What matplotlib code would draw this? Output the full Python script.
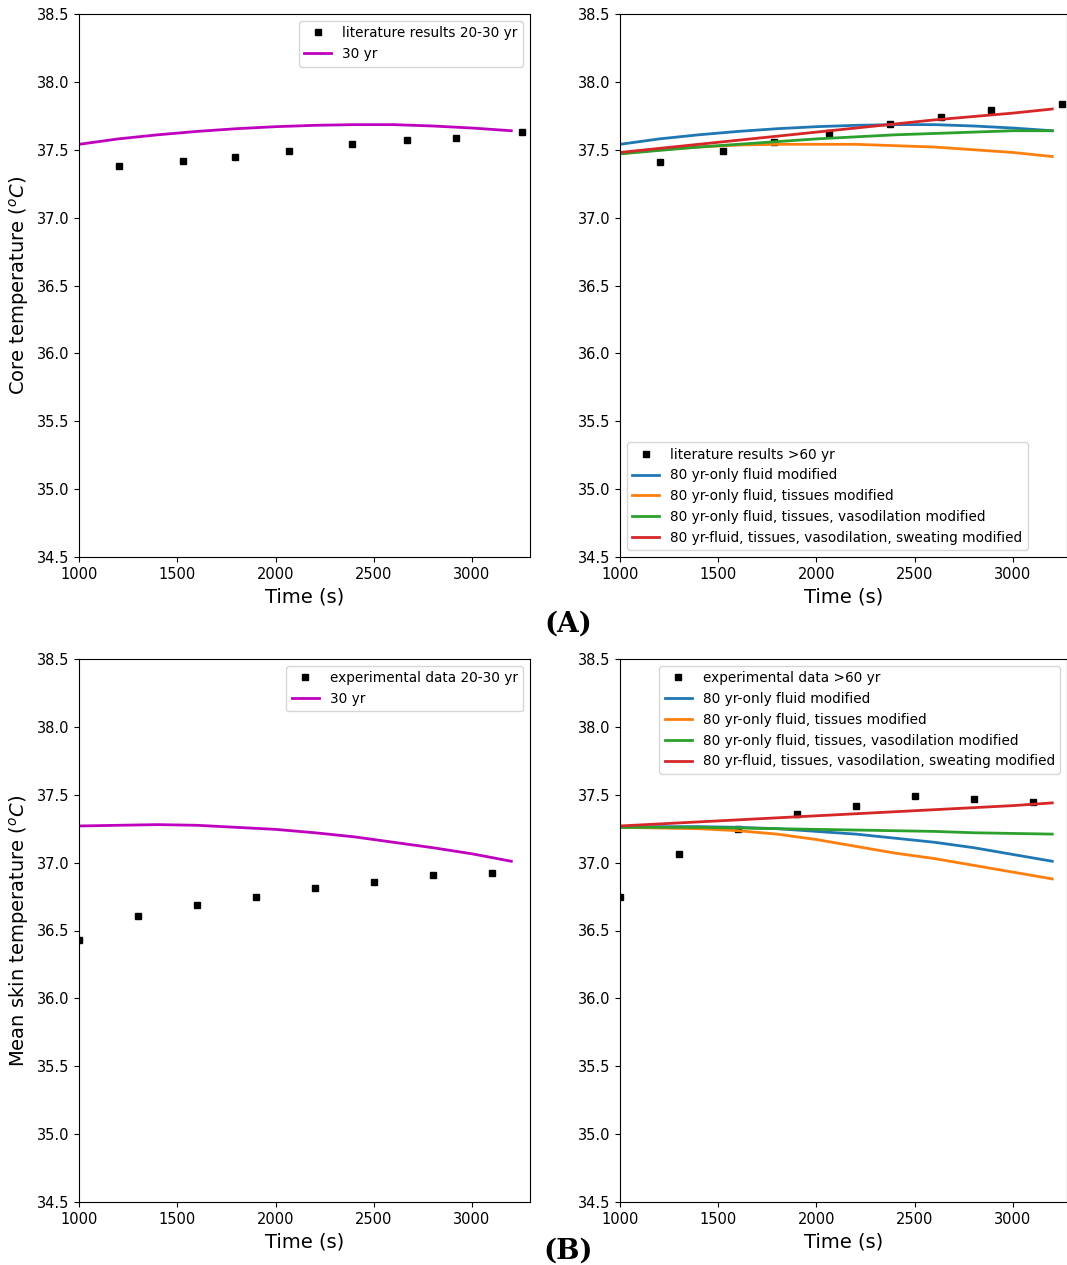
import matplotlib
matplotlib.use('Agg')
import matplotlib.pyplot as plt

# 数据
t_lit_young = [1204, 1529, 1794, 2069, 2389, 2669, 2919, 3254]
core_lit_young = [37.38, 37.42, 37.45, 37.49, 37.54, 37.57, 37.59, 37.63]
t_lit_old = [1204, 1524, 1784, 2064, 2374, 2634, 2888, 3249]
core_lit_old = [37.41, 37.49, 37.56, 37.62, 37.69, 37.74, 37.79, 37.84]

t_model = [1000, 1200, 1400, 1600, 1800, 2000, 2200, 2400, 2600, 2800, 3000, 3200]
core_30 = [37.54, 37.58, 37.61, 37.635, 37.655, 37.67, 37.68, 37.685, 37.685, 37.675, 37.66, 37.64]
core_fluid = [37.54, 37.58, 37.61, 37.635, 37.655, 37.67, 37.68, 37.685, 37.685, 37.675, 37.66, 37.64]
core_tissue = [37.47, 37.50, 37.52, 37.535, 37.54, 37.54, 37.54, 37.53, 37.52, 37.50, 37.48, 37.45]
core_vaso = [37.47, 37.495, 37.52, 37.54, 37.56, 37.58, 37.595, 37.61, 37.62, 37.63, 37.64, 37.64]
core_sweat = [37.48, 37.51, 37.54, 37.57, 37.60, 37.63, 37.66, 37.69, 37.72, 37.745, 37.77, 37.80]

t_exp = [1000, 1300, 1600, 1900, 2200, 2500, 2800, 3100]
skin_exp_young = [36.43, 36.61, 36.69, 36.75, 36.81, 36.86, 36.91, 36.92]
skin_exp_old = [36.75, 37.06, 37.25, 37.36, 37.42, 37.49, 37.47, 37.45]
skin_30 = [37.27, 37.275, 37.28, 37.275, 37.26, 37.245, 37.22, 37.19, 37.15, 37.11, 37.065, 37.01]
skin_fluid = [37.26, 37.265, 37.265, 37.26, 37.25, 37.23, 37.21, 37.18, 37.15, 37.11, 37.06, 37.01]
skin_tissue = [37.26, 37.255, 37.25, 37.235, 37.21, 37.17, 37.12, 37.07, 37.03, 36.98, 36.93, 36.88]
skin_vaso = [37.26, 37.26, 37.26, 37.255, 37.25, 37.245, 37.24, 37.235, 37.23, 37.22, 37.215, 37.21]
skin_sweat = [37.27, 37.285, 37.30, 37.315, 37.33, 37.345, 37.36, 37.375, 37.39, 37.405, 37.42, 37.44]

labels_80 = ['80 yr-only fluid modified', '80 yr-only fluid, tissues modified',
             '80 yr-only fluid, tissues, vasodilation modified',
             '80 yr-fluid, tissues, vasodilation, sweating modified']
colors = ['#1f77b4', '#ff7f0e', '#2ca02c', '#d62728']

fig = plt.figure(figsize=(10.67, 12.65), dpi=100)
W, H = 1067, 1265
def add_ax(x0, y0, x1, y1):
    return fig.add_axes([x0 / W, 1 - y1 / H, (x1 - x0) / W, (y1 - y0) / H])

ax1 = add_ax(79, 14, 530, 557)
ax2 = add_ax(620, 14, 1067, 557)
ax3 = add_ax(79, 659, 530, 1202)
ax4 = add_ax(620, 659, 1067, 1202)

ax1.plot(t_lit_young, core_lit_young, 's', color='k', ms=5, label='literature results 20-30 yr')
ax1.plot(t_model, core_30, color='m', lw=2, label='30 yr')
ax2.plot(t_lit_old, core_lit_old, 's', color='k', ms=5, label='literature results >60 yr')
for y, lab, c in zip([core_fluid, core_tissue, core_vaso, core_sweat], labels_80, colors):
    ax2.plot(t_model, y, color=c, lw=2, label=lab)

ax3.plot(t_exp, skin_exp_young, 's', color='k', ms=5, label='experimental data 20-30 yr')
ax3.plot(t_model, skin_30, color='m', lw=2, label='30 yr')
ax4.plot(t_exp, skin_exp_old, 's', color='k', ms=5, label='experimental data >60 yr')
for y, lab, c in zip([skin_fluid, skin_tissue, skin_vaso, skin_sweat], labels_80, colors):
    ax4.plot(t_model, y, color=c, lw=2, label=lab)

for ax, xmax in [(ax1, 3295), (ax2, 3275), (ax3, 3295), (ax4, 3275)]:
    ax.set_xlim(1000, xmax)
    ax.set_ylim(34.5, 38.5)
    ax.set_xticks([1000, 1500, 2000, 2500, 3000])
    ax.tick_params(labelsize=10.5)
    ax.set_xlabel('Time (s)', fontsize=14)

ax1.set_ylabel('Core temperature ($^oC$)', fontsize=14)
ax3.set_ylabel('Mean skin temperature ($^oC$)', fontsize=14)
ax1.legend(loc='upper right', fontsize=9.8)
ax2.legend(loc='lower left', fontsize=9.8)
ax3.legend(loc='upper right', fontsize=9.8)
ax4.legend(loc='upper right', fontsize=9.8)

fig.text(568 / W, 1 - 624 / H, '(A)', fontsize=20, fontweight='bold', family='DejaVu Serif', ha='center', va='center')
fig.text(568 / W, 1 - 1251 / H, '(B)', fontsize=20, fontweight='bold', family='DejaVu Serif', ha='center', va='center')

fig.savefig('out.png', dpi=100)
